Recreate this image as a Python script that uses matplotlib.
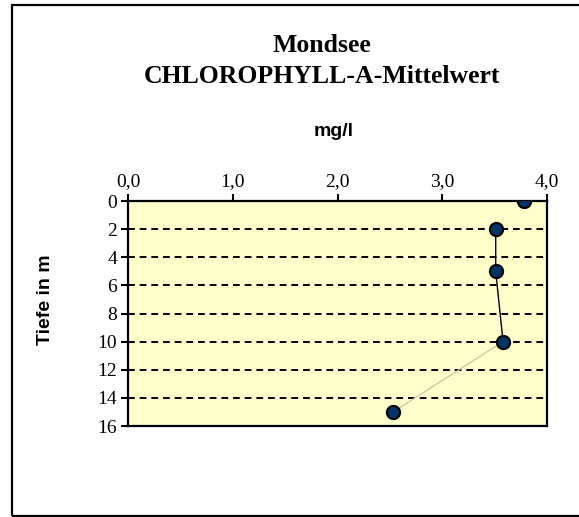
import matplotlib
matplotlib.use("Agg")
import matplotlib.pyplot as plt
import matplotlib.ticker as mticker
from matplotlib.patches import Rectangle

# Chlorophyll-a mean values (mg/l) per depth (m)
depth = [0, 2, 5, 10, 15]
chl = [3.78, 3.51, 3.51, 3.58, 2.53]

x_ticks = [0.0, 1.0, 2.0, 3.0, 4.0]
y_ticks = [0, 2, 4, 6, 8, 10, 12, 14, 16]

fig = plt.figure(figsize=(5.79, 5.17), dpi=100)
ax = fig.add_axes([0.2211, 0.176, 0.7237, 0.4352])
ax.set_facecolor("#FFFFCC")

# outer chart frame
fig.patches.append(Rectangle((0.0205, 0.002), 1.2, 0.989, transform=fig.transFigure,
                             fill=False, edgecolor="black", linewidth=1.6))

# connecting segments: none between first two, black in the middle, pale at the end
ax.plot(chl[1:4], depth[1:4], color="black", linewidth=1.0, zorder=3)
ax.plot(chl[3:5], depth[3:5], color="#c8c8a8", linewidth=0.9, zorder=3)
ax.plot(chl, depth, linestyle="none", marker="o", markersize=9.5,
        markerfacecolor="#003366", markeredgecolor="black", markeredgewidth=1.5, zorder=4)

ax.set_xlim(0, 4)
ax.set_ylim(16, 0)
ax.xaxis.tick_top()
ax.set_xticks(x_ticks)
ax.set_yticks(y_ticks)
ax.xaxis.set_major_formatter(mticker.FuncFormatter(lambda v, _: f"{v:.1f}".replace(".", ",")))
ax.tick_params(axis="both", direction="out", length=5, width=1.5, labelsize=14, pad=3)
for lab in ax.get_xticklabels() + ax.get_yticklabels():
    lab.set_fontfamily("Liberation Serif")

for y in y_ticks[1:-1]:
    ax.axhline(y, color="black", linestyle=(0, (3.5, 2.5)), linewidth=1.4, zorder=2)

for s in ax.spines.values():
    s.set_linewidth(1.6)

fig.text(0.556, 0.899, "Mondsee", ha="center", va="baseline", fontsize=18.5,
         fontweight="bold", family="Liberation Serif")
fig.text(0.556, 0.839, "CHLOROPHYLL-A-Mittelwert", ha="center", va="baseline", fontsize=18.5,
         fontweight="bold", family="Liberation Serif")
fig.text(0.577, 0.737, "mg/l", ha="center", va="baseline", fontsize=14,
         fontweight="bold", family="Liberation Sans")
fig.text(0.079, 0.42, "Tiefe in m", ha="center", va="center", rotation=90, fontsize=14,
         fontweight="bold", family="Liberation Sans")

fig.savefig("out.png", dpi=100)
